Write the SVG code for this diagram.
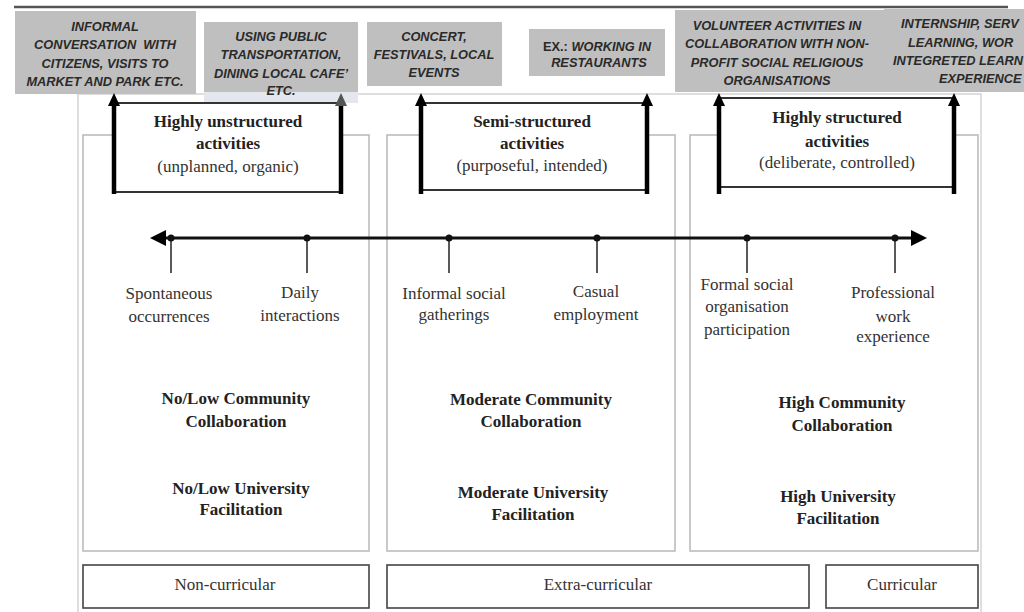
<svg xmlns="http://www.w3.org/2000/svg" width="1024" height="612" viewBox="0 0 1024 612">
<defs>
<style>
.gbox{fill:#bfbfbf;}
.gt{font-family:"Liberation Sans",Arial,sans-serif;font-weight:bold;font-style:italic;font-size:12.8px;fill:#2a2a2a;text-anchor:middle;}
.gts{font-family:"Liberation Sans",Arial,sans-serif;font-weight:bold;font-style:italic;font-size:12.8px;fill:#2a2a2a;}
.sec{fill:#fff;stroke:#b8b8b8;stroke-width:1.5;}
.brk{fill:#fff;stroke:#333;stroke-width:2;}
.bot{fill:#fff;stroke:#444;stroke-width:1.6;}
.sb{font-family:"Liberation Serif","Times New Roman",serif;font-weight:bold;font-size:17px;fill:#222;text-anchor:middle;}
.sr{font-family:"Liberation Serif","Times New Roman",serif;font-size:17px;fill:#333;text-anchor:middle;}
.shaft{stroke:#000;stroke-width:4.5;fill:none;}
.tick{stroke:#222;stroke-width:1.5;}
.axis{stroke:#111;stroke-width:3;}
</style>
</defs>
<rect width="1024" height="612" fill="#fff"/>
<line x1="14" y1="7" x2="1008" y2="7" stroke="#555" stroke-width="2.5"/>

<g id="panel">
<rect x="78" y="94" width="903" height="530" fill="#fff" stroke="#d4d4d4" stroke-width="1.5"/>
</g>

<g id="example1">
<rect class="gbox" x="15" y="11" width="181" height="83"/>
<text class="gt" x="105" y="30.5">INFORMAL</text>
<text class="gt" x="105" y="48.5" xml:space="preserve">CONVERSATION  WITH</text>
<text class="gt" x="105" y="67.5">CITIZENS, VISITS TO</text>
<text class="gt" x="105" y="85.5">MARKET AND PARK ETC.</text>
</g>
<g id="example2">
<rect x="204" y="92" width="154" height="11" fill="#e4e8ee"/>
<rect class="gbox" x="204" y="22" width="154" height="70"/>
<text class="gt" x="281" y="40.5">USING PUBLIC</text>
<text class="gt" x="281" y="58.5">TRANSPORTATION,</text>
<text class="gt" x="281" y="77.5">DINING LOCAL CAFE’</text>
<text class="gt" x="281" y="95">ETC.</text>
</g>
<g id="example3">
<rect class="gbox" x="367" y="22" width="135" height="64"/>
<text class="gt" x="434" y="40.5">CONCERT,</text>
<text class="gt" x="434" y="58.5">FESTIVALS, LOCAL</text>
<text class="gt" x="434" y="76.5">EVENTS</text>
</g>
<g id="example4">
<rect class="gbox" x="529" y="29" width="136" height="47"/>
<text class="gt" x="597" y="50.5"><tspan font-style="normal">EX.: </tspan>WORKING IN</text>
<text class="gt" x="599" y="66.5">RESTAURANTS</text>
</g>
<g id="example5">
<rect class="gbox" x="675" y="10" width="210" height="82"/>
<text class="gt" x="777" y="29.5">VOLUNTEER ACTIVITIES IN</text>
<text class="gt" x="777" y="47.5">COLLABORATION WITH NON-</text>
<text class="gt" x="777" y="66.5">PROFIT SOCIAL RELIGIOUS</text>
<text class="gt" x="777" y="84.5">ORGANISATIONS</text>
</g>
<g id="example6">
<rect class="gbox" x="884" y="9" width="140" height="83"/>
<text class="gts" x="901" y="27.5">INTERNSHIP, SERV</text>
<text class="gts" x="908" y="46.5">LEARNING, WOR</text>
<text class="gts" x="893" y="64.5">INTEGRETED LEARN</text>
<text class="gts" x="939" y="82.5">EXPERIENCE</text>
</g>

<g id="section-left">
<rect class="sec" x="83" y="135" width="286" height="416"/>
<text class="sb" x="236" y="404">No/Low Community</text>
<text class="sb" x="236" y="427">Collaboration</text>
<text class="sb" x="241" y="494">No/Low University</text>
<text class="sb" x="241" y="515">Facilitation</text>
</g>
<g id="section-middle">
<rect class="sec" x="387" y="135" width="288" height="416"/>
<text class="sb" x="531" y="405">Moderate Community</text>
<text class="sb" x="531" y="427">Collaboration</text>
<text class="sb" x="533" y="498">Moderate University</text>
<text class="sb" x="533" y="520">Facilitation</text>
</g>
<g id="section-right">
<rect class="sec" x="690" y="135" width="288" height="416"/>
<text class="sb" x="842" y="408">High Community</text>
<text class="sb" x="842" y="431">Collaboration</text>
<text class="sb" x="838" y="502">High University</text>
<text class="sb" x="838" y="524">Facilitation</text>
</g>

<g id="bracket-unstructured">
<rect class="brk" x="114" y="103" width="227" height="89"/>
<text class="sb" x="228" y="127">Highly unstructured</text>
<text class="sb" x="228" y="149">activities</text>
<text class="sr" x="228" y="172">(unplanned, organic)</text>
</g>
<g id="bracket-semi">
<rect class="brk" x="421" y="103" width="226" height="87"/>
<text class="sb" x="532" y="127">Semi-structured</text>
<text class="sb" x="532" y="149">activities</text>
<text class="sr" x="532" y="171">(purposeful, intended)</text>
</g>
<g id="bracket-structured">
<rect class="brk" x="719" y="98" width="235" height="89"/>
<text class="sb" x="837" y="123">Highly structured</text>
<text class="sb" x="837" y="147">activities</text>
<text class="sr" x="837" y="168">(deliberate, controlled)</text>
</g>

<g id="connectors">
<g id="up-arrows">
<line class="shaft" x1="114" y1="194" x2="114" y2="105"/>
<path d="M108,106 L114,93 L120,106 Z" fill="#000"/>
<line class="shaft" x1="341" y1="194" x2="341" y2="105"/>
<path d="M335,106 L341,93 L347,106 Z" fill="#555"/>
<line class="shaft" x1="421" y1="194" x2="421" y2="105"/>
<path d="M415,106 L421,93 L427,106 Z" fill="#000"/>
<line class="shaft" x1="647" y1="194" x2="647" y2="105"/>
<path d="M641,106 L647,93 L653,106 Z" fill="#000"/>
<line class="shaft" x1="719" y1="194" x2="719" y2="105"/>
<path d="M713,106 L719,93 L725,106 Z" fill="#000"/>
<line class="shaft" x1="954" y1="194" x2="954" y2="105"/>
<path d="M948,106 L954,93 L960,106 Z" fill="#000"/>
</g>
<g id="axis">
<line class="axis" x1="163" y1="238" x2="914" y2="238"/>
<path d="M150,238 L166,230 L166,246 Z" fill="#000"/>
<path d="M927,238 L911,230 L911,246 Z" fill="#000"/>
<line class="tick" x1="171" y1="238" x2="171" y2="273"/>
<line class="tick" x1="307" y1="238" x2="307" y2="273"/>
<line class="tick" x1="449" y1="238" x2="449" y2="273"/>
<line class="tick" x1="597" y1="238" x2="597" y2="273"/>
<line class="tick" x1="747" y1="238" x2="747" y2="273"/>
<line class="tick" x1="895" y1="238" x2="895" y2="273"/>
<circle cx="171" cy="238" r="3.5" fill="#111"/>
<circle cx="307" cy="238" r="3.5" fill="#111"/>
<circle cx="449" cy="238" r="3.5" fill="#111"/>
<circle cx="597" cy="238" r="3.5" fill="#111"/>
<circle cx="747" cy="238" r="3.5" fill="#111"/>
<circle cx="895" cy="238" r="3.5" fill="#111"/>
</g>
</g>

<g id="point-spontaneous">
<text class="sr" x="169" y="299">Spontaneous</text>
<text class="sr" x="169" y="322">occurrences</text>
</g>
<g id="point-daily">
<text class="sr" x="300" y="298">Daily</text>
<text class="sr" x="300" y="321">interactions</text>
</g>
<g id="point-informal">
<text class="sr" x="454" y="299">Informal social</text>
<text class="sr" x="454" y="320">gatherings</text>
</g>
<g id="point-casual">
<text class="sr" x="596" y="297">Casual</text>
<text class="sr" x="596" y="320">employment</text>
</g>
<g id="point-formal">
<text class="sr" x="747" y="290">Formal social</text>
<text class="sr" x="747" y="312">organisation</text>
<text class="sr" x="747" y="335">participation</text>
</g>
<g id="point-professional">
<text class="sr" x="893" y="298">Professional</text>
<text class="sr" x="893" y="322">work</text>
<text class="sr" x="893" y="342">experience</text>
</g>

<g id="cat-noncurricular">
<rect class="bot" x="83" y="565" width="286" height="43"/>
<text class="sr" x="225" y="590">Non-curricular</text>
</g>
<g id="cat-extracurricular">
<rect class="bot" x="387" y="565" width="422" height="43"/>
<text class="sr" x="598" y="590">Extra-curricular</text>
</g>
<g id="cat-curricular">
<rect class="bot" x="826" y="565" width="152" height="43"/>
<text class="sr" x="902" y="590">Curricular</text>
</g>
</svg>
